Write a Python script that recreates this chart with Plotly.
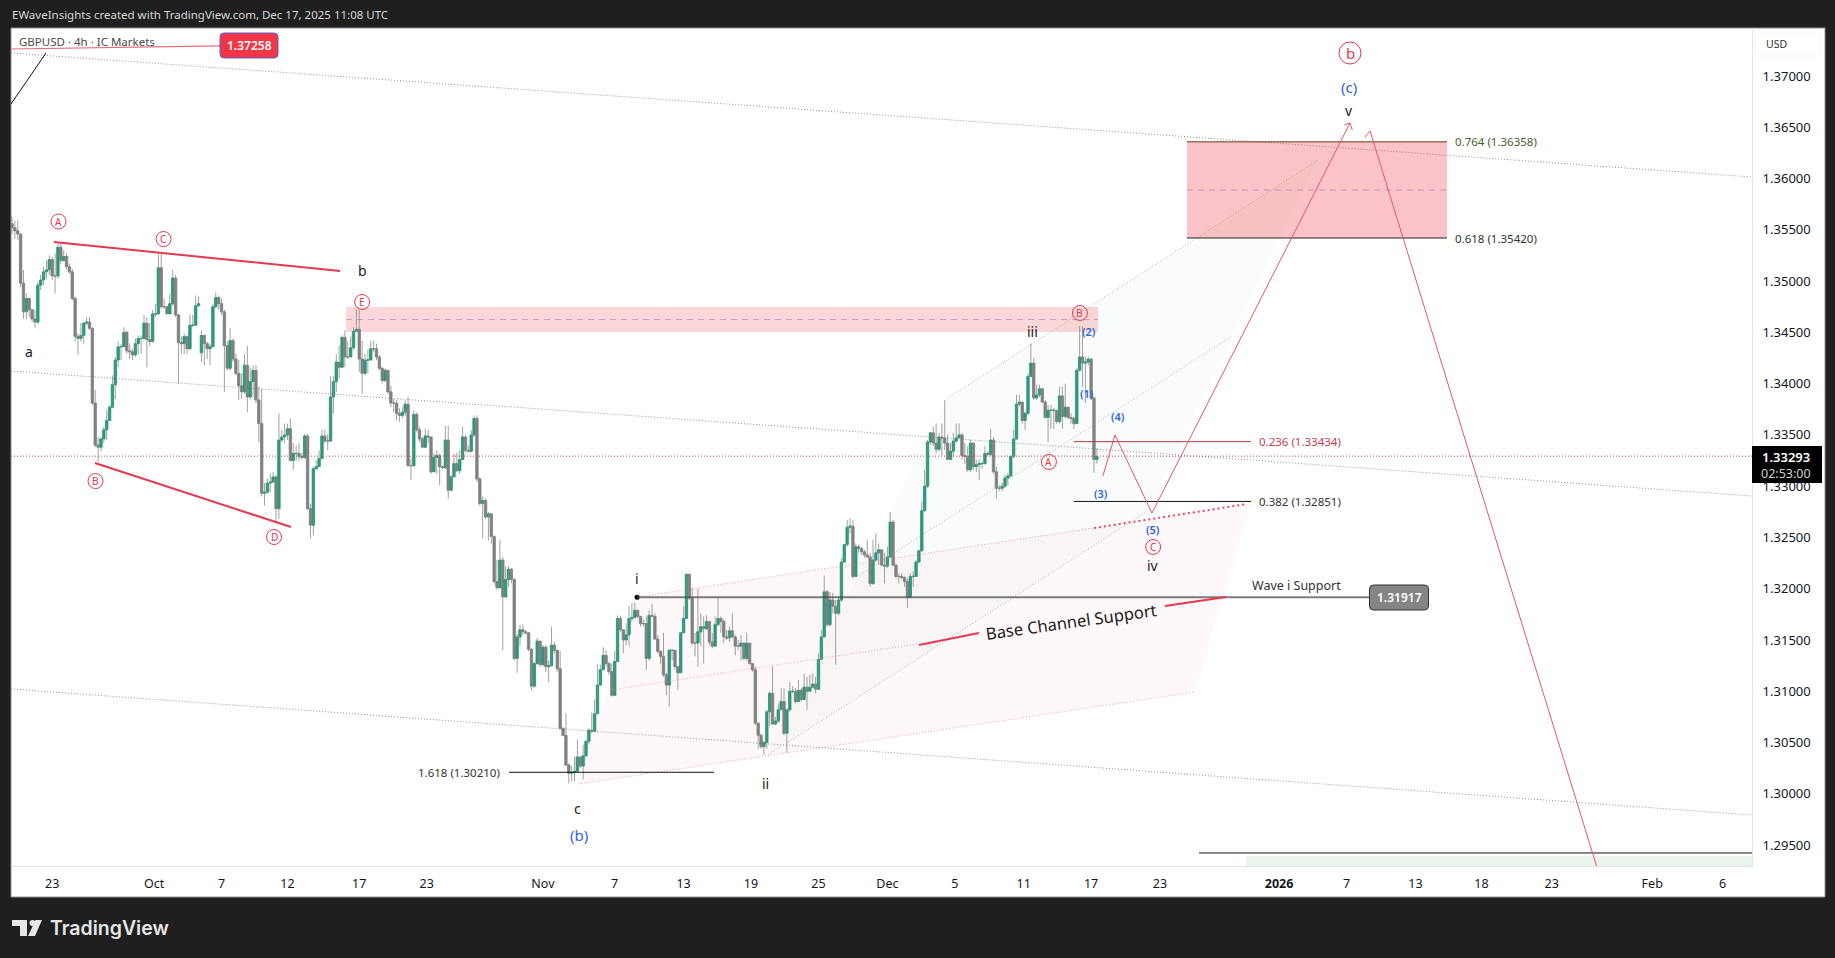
import plotly.graph_objects as go

# ---- price data, GBPUSD 4h, in units of 0.0001 ----
first_open = 13556
weekend_gap_opens = {66: 13430}
closes = [
13552,13549,13546,13498,13470,13483,13472,13463,13460,13496,
13501,13509,13511,13521,13505,13505,13533,13520,13524,13514,
13509,13483,13446,13444,13447,13459,13460,13454,13381,13340,
13338,13346,13355,13364,13377,13399,13423,13436,13436,13450,
13432,13431,13428,13439,13444,13444,13459,13443,13441,13468,
13468,13513,13475,13475,13468,13478,13503,13467,13440,13439,
13446,13434,13457,13457,13476,13478,13447,13439,13434,13436,
13475,13484,13478,13470,13437,13415,13442,13424,13410,13398,
13392,13418,13387,13402,13413,13384,13361,13293,13294,13303,
13304,13309,13278,13345,13348,13350,13356,13325,13332,13332,
13329,13328,13349,13278,13262,13317,13319,13327,13349,13344,
13344,13387,13402,13421,13416,13445,13426,13426,13435,13451,
13453,13424,13410,13423,13423,13434,13434,13426,13415,13403,
13413,13392,13381,13381,13371,13369,13372,13380,13320,13320,
13370,13355,13346,13338,13349,13348,13314,13328,13330,13319,
13318,13345,13296,13309,13322,13315,13326,13348,13335,13334,
13350,13366,13307,13283,13286,13270,13273,13251,13207,13201,
13228,13192,13209,13219,13209,13132,13153,13160,13158,13157,
13141,13105,13127,13149,13126,13143,13124,13125,13145,13140,
13122,13064,13057,13028,13020,13021,13022,13036,13027,13037,
13051,13062,13061,13078,13106,13121,13135,13127,13119,13096,
13129,13171,13160,13150,13155,13171,13172,13179,13173,13166,
13166,13132,13174,13173,13151,13139,13134,13116,13106,13140,
13140,13124,13118,13157,13171,13214,13191,13147,13147,13158,
13163,13161,13168,13148,13144,13165,13171,13168,13153,13152,
13159,13153,13144,13144,13147,13132,13147,13127,13121,13069,
13057,13046,13050,13080,13098,13068,13071,13082,13090,13059,
13082,13100,13100,13090,13101,13092,13104,13100,13104,13107,
13102,13131,13153,13197,13165,13189,13183,13176,13189,13226,
13243,13260,13261,13212,13241,13239,13236,13233,13231,13205,
13228,13235,13238,13223,13222,13231,13265,13223,13212,13212,
13211,13207,13192,13212,13212,13226,13237,13276,13300,13343,
13352,13342,13336,13348,13347,13342,13326,13334,13344,13347,
13350,13330,13329,13316,13342,13319,13321,13322,13322,13332,
13331,13345,13314,13298,13298,13300,13308,13310,13329,13346,
13380,13382,13364,13371,13407,13420,13386,13389,13395,13382,
13367,13374,13374,13374,13363,13388,13368,13377,13367,13366,
13361,13413,13426,13420,13421,13424,13386,13326,13329]
highs = [
13563,13559,13559,13546,13511,13488,13484,13473,13472,13499,
13506,13514,13520,13525,13524,13527,13537,13537,13530,13527,
13517,13512,13485,13449,13459,13460,13465,13465,13455,13394,
13348,13348,13358,13374,13379,13408,13426,13441,13439,13455,
13452,13439,13434,13444,13447,13447,13467,13465,13459,13472,
13478,13527,13527,13483,13476,13488,13511,13506,13468,13446,
13449,13447,13467,13467,13486,13485,13452,13448,13441,13439,
13478,13489,13486,13483,13472,13441,13454,13444,13429,13423,
13410,13429,13437,13416,13418,13418,13397,13395,13303,13307,
13312,13314,13311,13371,13355,13361,13361,13366,13342,13340,
13342,13333,13351,13351,13283,13319,13325,13335,13355,13355,
13351,13407,13407,13429,13437,13447,13452,13441,13446,13455,
13472,13472,13442,13429,13433,13442,13442,13439,13428,13416,
13415,13413,13398,13385,13384,13376,13377,13384,13387,13327,
13374,13372,13358,13348,13356,13355,13345,13332,13335,13332,
13320,13359,13359,13311,13332,13333,13335,13358,13350,13340,
13355,13369,13369,13309,13290,13288,13275,13273,13252,13228,
13248,13231,13222,13222,13220,13210,13156,13165,13165,13160,
13158,13142,13129,13152,13148,13145,13145,13130,13163,13148,
13140,13139,13064,13079,13030,13027,13036,13053,13036,13048,
13053,13064,13079,13092,13126,13126,13143,13140,13129,13127,
13139,13174,13174,13160,13166,13183,13186,13187,13179,13173,
13170,13173,13179,13185,13176,13155,13140,13157,13118,13141,
13140,13130,13124,13158,13183,13215,13215,13201,13157,13200,
13176,13173,13174,13166,13157,13173,13192,13173,13170,13160,
13163,13176,13155,13150,13155,13148,13157,13147,13127,13124,
13069,13059,13052,13082,13100,13124,13075,13088,13103,13103,
13083,13109,13105,13103,13111,13103,13117,13114,13116,13117,
13114,13137,13160,13213,13199,13197,13196,13189,13192,13230,
13244,13267,13269,13267,13244,13243,13241,13238,13248,13235,
13248,13254,13244,13238,13235,13241,13275,13267,13225,13215,
13215,13212,13210,13215,13217,13228,13238,13285,13316,13345,
13353,13358,13361,13352,13361,13384,13350,13342,13352,13361,
13361,13352,13342,13339,13345,13343,13326,13326,13324,13339,
13334,13356,13348,13319,13301,13303,13311,13313,13330,13355,
13389,13389,13382,13373,13410,13439,13425,13399,13399,13395,
13384,13379,13379,13376,13374,13397,13397,13400,13376,13371,
13368,13415,13456,13456,13426,13426,13425,13387,13337]
lows = [
13546,13541,13540,13494,13463,13463,13465,13460,13454,13458,
13491,13496,13502,13506,13501,13488,13502,13517,13520,13511,
13507,13481,13441,13428,13441,13439,13457,13452,13379,13338,
13324,13334,13342,13345,13364,13376,13385,13416,13423,13436,
13429,13424,13423,13426,13429,13429,13442,13416,13437,13441,
13465,13467,13473,13473,13468,13468,13476,13465,13400,13429,
13429,13429,13433,13455,13456,13475,13421,13418,13424,13418,
13436,13473,13472,13467,13392,13413,13413,13421,13408,13384,
13385,13390,13372,13385,13387,13381,13343,13290,13281,13293,
13294,13304,13265,13268,13343,13342,13345,13324,13316,13325,
13325,13326,13326,13277,13249,13252,13316,13319,13327,13342,
13335,13343,13371,13392,13405,13415,13416,13424,13426,13433,
13450,13411,13390,13408,13410,13424,13431,13423,13413,13400,
13402,13390,13377,13372,13364,13363,13366,13368,13319,13306,
13319,13353,13343,13337,13338,13342,13312,13314,13312,13301,
13317,13317,13288,13295,13315,13314,13312,13327,13333,13333,
13333,13348,13304,13281,13249,13268,13247,13244,13204,13199,
13200,13140,13191,13202,13205,13130,13118,13144,13155,13155,
13139,13101,13103,13126,13124,13124,13119,13109,13124,13137,
13119,13062,13056,13027,13010,13012,13012,13021,13025,13014,
13036,13048,13059,13060,13079,13105,13121,13124,13116,13095,
13096,13129,13158,13137,13145,13144,13168,13171,13171,13163,
13163,13121,13130,13173,13150,13137,13127,13114,13096,13085,
13130,13121,13101,13118,13157,13171,13189,13145,13134,13124,
13144,13127,13160,13145,13142,13144,13163,13157,13147,13150,
13148,13152,13135,13140,13130,13130,13130,13126,13119,13067,
13044,13044,13038,13044,13066,13067,13067,13069,13082,13057,
13040,13080,13098,13088,13090,13090,13092,13082,13100,13103,
13098,13103,13131,13153,13163,13163,13176,13126,13174,13187,
13225,13241,13254,13210,13212,13235,13233,13230,13230,13202,
13204,13226,13223,13222,13205,13220,13230,13222,13210,13205,
13209,13202,13181,13191,13202,13212,13225,13236,13275,13298,
13340,13339,13332,13334,13330,13335,13326,13326,13329,13342,
13347,13326,13322,13314,13314,13316,13314,13306,13317,13321,
13329,13329,13312,13288,13295,13295,13298,13301,13309,13327,
13345,13378,13361,13355,13369,13407,13384,13384,13387,13381,
13366,13343,13356,13356,13361,13361,13356,13366,13365,13361,
13356,13361,13412,13397,13381,13418,13384,13313,13322]

tick_bars = [14, 49.5, 73, 96, 121, 144.5, 185, 210, 234, 257.5, 281, 305, 328.5, 352.5, 376, 400, 441.5, 465, 489, 512, 536.5, 571.5, 596]
tick_labels = ["23", "Oct", "7", "12", "17", "23", "Nov", "7", "13", "19", "25", "Dec", "5", "11", "17", "23", "<b>2026</b>", "7", "13", "18", "23", "Feb", "6"]
price_ticks = [1.295, 1.30, 1.305, 1.31, 1.315, 1.32, 1.325, 1.33, 1.335, 1.34, 1.345, 1.35, 1.355, 1.36, 1.365, 1.37]

last_price = 1.33293
alert_price = 1.37258
fib_764, fib_618, fib_236, fib_382, fib_1618 = 1.36358, 1.35420, 1.33434, 1.32851, 1.30210
wave_i_support = 1.31917

X_RANGE = [-0.35, 606.27]
Y_RANGE = [1.29296, 1.37468]

RED = "#e5394f"
THIN_RED = "#e4566b"
BLUE = "#2f66d8"
BLACK = "#1a1a1a"
GREEN = "#0f9d75"
GRAY = "#808080"
WICK = "rgba(130,130,130,0.75)"
FONT = "Noto Sans"

# ---- page geometry helpers, for frame furniture only ----
L, R, T, B = 11, 1752, 28, 866
def xp(X):
    return (X - L) / (R - L)
def yp(Y):
    return (B - Y) / (B - T)

opens = []
for i in range(len(closes)):
    if i == 0:
        opens.append(first_open)
    elif i in weekend_gap_opens:
        opens.append(weekend_gap_opens[i])
    else:
        opens.append(closes[i - 1])

bars = list(range(len(closes)))
O = [v / 10000 for v in opens]
C = [v / 10000 for v in closes]
H = [max(h, o, c) / 10000 for h, o, c in zip(highs, opens, closes)]
Lw = [min(l, o, c) / 10000 for l, o, c in zip(lows, opens, closes)]
body_hi = [max(o, c) for o, c in zip(O, C)]
body_lo = [min(o, c) for o, c in zip(O, C)]

wick_x, wick_y = [], []
for b, h, l in zip(bars, H, Lw):
    wick_x += [b, b, None]
    wick_y += [l, h, None]

shapes = []
annotations = []

def line(x0, y0, x1, y1, color, width=1, dash="solid", layer="above"):
    shapes.append(dict(type="line", xref="x", yref="y", x0=x0, y0=y0, x1=x1, y1=y1,
                       line=dict(color=color, width=width, dash=dash), layer=layer))

def rect(x0, y0, x1, y1, fill, layer="below"):
    shapes.append(dict(type="rect", xref="x", yref="y", x0=x0, y0=y0, x1=x1, y1=y1,
                       fillcolor=fill, line=dict(width=0), layer=layer))

def poly(pts, fill):
    d = "M " + " L ".join(f"{a} {b}" for a, b in pts) + " Z"
    shapes.append(dict(type="path", xref="x", yref="y", path=d, fillcolor=fill,
                       line=dict(width=0), layer="below"))

def text(t, x, y, color=BLACK, size=13, anchor="center", angle=0, weight=None):
    annotations.append(dict(text=t, x=x, y=y, xref="x", yref="y", showarrow=False,
                            xanchor=anchor, yanchor="middle", textangle=angle,
                            font=dict(family=FONT, size=size, color=color, weight=weight)))

def ptext(t, X, Y, color, size, anchor="center", weight=None, family=FONT):
    annotations.append(dict(text=t, x=xp(X), y=yp(Y), xref="paper", yref="paper", showarrow=False,
                            xanchor=anchor, yanchor="middle",
                            font=dict(family=family, size=size, color=color, weight=weight)))

def rrect(X0, Y0, X1, Y1, r, fill, border=None, layer="above", bw=1):
    a, b, c, d = xp(X0), xp(X1), yp(Y0), yp(Y1)
    rx, ry = r / (R - L), r / (B - T)
    path = (f"M {a+rx} {c} L {b-rx} {c} Q {b} {c} {b} {c-ry} L {b} {d+ry} Q {b} {d} {b-rx} {d} "
            f"L {a+rx} {d} Q {a} {d} {a} {d+ry} L {a} {c-ry} Q {a} {c} {a+rx} {c} Z")
    shapes.append(dict(type="path", xref="paper", yref="paper", path=path, fillcolor=fill,
                       line=dict(color=border or fill, width=bw), layer=layer))

def circled(t, x, y, r=7.5, size=10):
    shapes.append(dict(type="circle", xref="x", yref="y", xsizemode="pixel", ysizemode="pixel",
                       xanchor=x, yanchor=y, x0=-r, x1=r, y0=-r, y1=r,
                       line=dict(color=RED, width=1), fillcolor="rgba(255,255,255,0)", layer="above"))
    text(t, x, y, RED, size)

# ---- frame ----
shapes.append(dict(type="rect", xref="paper", yref="paper", x0=xp(11), x1=xp(1825), y0=yp(897), y1=yp(28),
                   fillcolor="#ffffff", line=dict(color="#8f8f8f", width=1), layer="below"))
ptext("EWaveInsights created with TradingView.com, Dec 17, 2025 11:08 UTC", 10, 14.5, "#d8d8d8", 11.5, "left")
ptext("GBPUSD · 4h · IC Markets", 17, 41, "#4a4a4a", 11.5, "left")

# ---- channels and zones ----
poly([(197.2, 1.30096), (217.8, 1.31919), (431.7, 1.32836), (412.2, 1.30993)], "rgba(255,70,130,0.04)")
poly([(263.4, 1.30378), (326.1, 1.3386), (455.1, 1.36181), (395.1, 1.32748)], "rgba(76,175,80,0.03)")
rect(116.4, 1.34503, 378.4, 1.34747, "rgba(242,54,69,0.2)")
rect(409.4, fib_618, 500, fib_764, "rgba(242,54,69,0.3)")
rect(430, Y_RANGE[0], X_RANGE[1], 1.29393, "rgba(76,175,80,0.12)")

DOT = "1px,2px"
CH_GRAY = "rgba(110,110,110,0.75)"
PINK_DOT = "rgba(233,120,140,0.7)"
GREEN_DOT = "rgba(120,160,120,0.7)"
line(-0.35, 1.37224, 606.27, 1.36015, CH_GRAY, 1, DOT)
line(-0.35, 1.34123, 606.27, 1.32904, CH_GRAY, 1, DOT)
line(-0.35, 1.31022, 606.27, 1.29793, CH_GRAY, 1, DOT)
line(197.2, 1.30096, 412.2, 1.30993, PINK_DOT, 1, DOT)
line(208.4, 1.31012, 315.3, 1.31461, PINK_DOT, 1, DOT)
line(217.8, 1.31919, 377, 1.32592, PINK_DOT, 1, DOT)
line(263.4, 1.30378, 395.1, 1.32748, GREEN_DOT, 1, DOT)
line(294.8, 1.32124, 425.1, 1.34464, GREEN_DOT, 1, DOT)
line(326.1, 1.3386, 455.1, 1.36181, GREEN_DOT, 1, DOT)

line(X_RANGE[0], last_price, X_RANGE[1], last_price, "#c2455c", 1, DOT)

line(116.4, 1.34625, 378.4, 1.34625, "rgba(150,110,190,0.55)", 1, "6px,5px")
line(409.4, 1.35888, 500, 1.35888, "rgba(150,110,190,0.55)", 1, "6px,5px")

# ---- wave drawings ----
line(14.6, 1.35381, 114.3, 1.35098, RED, 2)
line(28.9, 1.33226, 97.2, 1.32602, RED, 2)
line(-0.35, 1.36727, 11.85, 1.37224, "#111111", 1)
line(-0.35, 1.37263, 72.5, 1.37293, "#e56a7c", 1.2)

line(409.4, fib_764, 500, fib_764, "#6a3a1c", 1)
line(409.4, fib_618, 500, fib_618, "#222222", 1)
line(370, fib_236, 431.7, fib_236, "#b23a3a", 1)
line(370, fib_382, 431.7, fib_382, "#111111", 1)
line(173.2, fib_1618, 244.6, fib_1618, "#111111", 1)
line(217.8, wave_i_support, 473.2, wave_i_support, "rgba(70,70,70,0.7)", 2)
line(413.6, 1.29423, X_RANGE[1], 1.29423, "#111111", 1)

line(377, 1.32592, 430.3, 1.32826, "#e5495f", 2, "2px,3px")
line(316, 1.31451, 336.9, 1.31568, RED, 2)
line(401.7, 1.31831, 423, 1.31919, RED, 2)

path_bars = [380.1, 384.3, 397.2, 466.2]
path_prices = [1.33099, 1.33499, 1.32738, 1.36542]
for i in range(3):
    line(path_bars[i], path_prices[i], path_bars[i + 1], path_prices[i + 1], THIN_RED, 1)
line(466.2, 1.36542, 464.2, 1.36522, THIN_RED, 1)
line(466.2, 1.36542, 467, 1.36473, THIN_RED, 1)
line(473.2, 1.36464, 552.1, Y_RANGE[0], THIN_RED, 1)
line(473.2, 1.36464, 471.4, 1.36405, THIN_RED, 1)

# ---- circled labels ----
circled("A", 16.2, 1.35581)
circled("C", 52.8, 1.3541)
circled("E", 122, 1.34796)
circled("B", 29.1, 1.3305)
circled("D", 91.3, 1.32504)
circled("B", 372.1, 1.34689)
circled("A", 361.3, 1.33236)
circled("C", 397.6, 1.32407)
circled("b", 466.2, 1.37224, 11, 15)

# ---- wave texts ----
text("a", 5.9, 1.34318, BLACK, 14)
text("b", 122.1, 1.35108, BLACK, 14)
text("c", 197.2, 1.29861, BLACK, 14)
text("i", 217.8, 1.32104, BLACK, 14)
text("ii", 262.7, 1.30096, BLACK, 14)
text("iii", 355.7, 1.34513, BLACK, 14)
text("iv", 397.6, 1.32231, BLACK, 14)
text("v", 465.9, 1.36668, BLACK, 14)
text("(b)", 197.6, 1.29598, BLUE, 15)
text("(c)", 465.9, 1.36895, BLUE, 15)
text("(1)", 374.6, 1.33899, BLUE, 11, weight=600)
text("(2)", 375.3, 1.34513, BLUE, 11, weight=600)
text("(3)", 379.4, 1.32933, BLUE, 11, weight=600)
text("(4)", 385.4, 1.33684, BLUE, 11, weight=600)
text("(5)", 397.6, 1.32582, BLUE, 11, weight=600)
text("Wave i Support", 447.7, 1.32036, "#333333", 12.5)
text("Base Channel Support", 369, 1.31685, BLACK, 16.5, angle=-8)
text("0.764 (1.36358)", 502.2, fib_764, "#46612f", 11.5, "left")
text("0.618 (1.35420)", 502.2, fib_618, "#333333", 11.5, "left")
text("0.236 (1.33434)", 433.9, fib_236, "#c43d4e", 11.5, "left")
text("0.382 (1.32851)", 433.9, fib_382, "#333333", 11.5, "left")
text("1.618 (1.30210)", 170.6, fib_1618, "#333333", 11.5, "right")

# ---- tags ----
rrect(220, 33, 278, 58, 4, "#f23645", "#5a5fd0")
ptext(f"{alert_price:.5f}", 249, 45.5, "#ffffff", 12, weight=600)
rrect(1369.5, 585, 1428.5, 610, 4, "#858585", "#333333")
ptext(f"{wave_i_support:.5f}", 1399, 597, "#ffffff", 12, weight=600)
rrect(1755, 32, 1820, 56, 2, "#ffffff", "#f0f3fa")
ptext("USD", 1764, 44, "#333333", 10.5, "left")
shapes.append(dict(type="rect", xref="paper", yref="paper", x0=xp(1752), x1=xp(1822), y0=yp(483), y1=yp(446),
                   fillcolor="#000000", line=dict(width=0), layer="above"))
ptext(f"{last_price:.5f}", 1786, 457, "#ffffff", 13, weight=600)
ptext("02:53:00", 1786, 473.5, "#d0d0d0", 12.5)

# ---- logo ----
LOGO = "#e6e6e6"
rrect(12, 920, 27, 926, 0.1, LOGO, LOGO, bw=0)
rrect(20, 926, 27, 936, 0.1, LOGO, LOGO, bw=0)
shapes.append(dict(type="circle", xref="paper", yref="paper", x0=xp(29.5), x1=xp(35.5), y0=yp(926), y1=yp(920),
                   fillcolor=LOGO, line=dict(width=0), layer="above"))
shapes.append(dict(type="path", xref="paper", yref="paper",
                   path=f"M {xp(35)} {yp(936)} L {xp(42)} {yp(920)} L {xp(35.5)} {yp(920)} L {xp(28)} {yp(936)} Z",
                   fillcolor=LOGO, line=dict(width=0), layer="above"))
ptext("TradingView", 48, 928, LOGO, 19.5, "left", weight=600, family="Inter")

fig = go.Figure()
fig.add_trace(go.Scatter(x=wick_x, y=wick_y, mode="lines", line=dict(color=WICK, width=1),
                         hoverinfo="skip", showlegend=False))
fig.add_trace(go.Candlestick(
    x=bars, open=O, high=body_hi, low=body_lo, close=C,
    increasing=dict(line=dict(color=GREEN, width=0.8), fillcolor=GREEN),
    decreasing=dict(line=dict(color=GRAY, width=0.8), fillcolor=GRAY),
    hoverinfo="skip", showlegend=False))
fig.add_trace(go.Scatter(x=[217.8], y=[wave_i_support], mode="markers",
                         marker=dict(color="#000000", size=5), hoverinfo="skip", showlegend=False))

fig.update_layout(
    width=1835, height=958, autosize=False, boxgap=0.15, boxgroupgap=0,
    margin=dict(l=L, r=1835 - R, t=T, b=958 - B, pad=0),
    paper_bgcolor="#1f1f1f", plot_bgcolor="#ffffff",
    shapes=shapes, annotations=annotations, showlegend=False,
    font=dict(family=FONT, color="#131722"),
    xaxis=dict(range=X_RANGE, rangeslider=dict(visible=False), showgrid=False, zeroline=False,
               tickmode="array", tickvals=tick_bars, ticktext=tick_labels, ticks="",
               tickfont=dict(family=FONT, size=12.5, color="#131722"), tickangle=0,
               showline=True, linecolor="#e0e3eb", linewidth=1, ticklabelstandoff=6),
    yaxis=dict(range=Y_RANGE, side="right", showgrid=False, zeroline=False,
               tickmode="array", tickvals=price_ticks, tickformat=".5f", ticks="",
               tickfont=dict(family=FONT, size=13, color="#131722"),
               showline=True, linecolor="#e0e3eb", linewidth=1, ticklabelstandoff=7),
)

fig.write_html("out.html", config={"displayModeBar": False},
               post_script="document.body.style.margin='0';document.body.style.background='#1f1f1f';")
